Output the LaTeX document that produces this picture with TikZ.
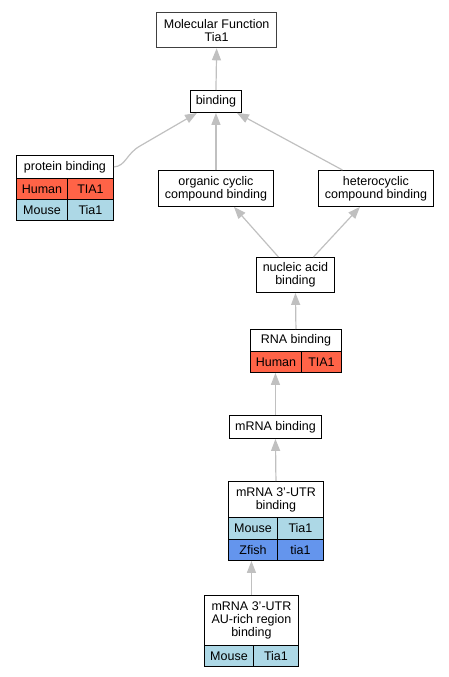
\documentclass[tikz,border=0pt]{standalone}
\usepackage{fontspec}
\setmainfont{Liberation Sans}
\usetikzlibrary{arrows.meta}
\definecolor{human}{HTML}{FF6347}
\definecolor{mouse}{HTML}{ADD8E6}
\definecolor{zfish}{HTML}{6495ED}
\definecolor{edgegray}{HTML}{C0C0C0}
\definecolor{rootgray}{HTML}{404040}
\begin{document}
\begin{tikzpicture}[x=1pt,y=-1pt,
  cell/.style={draw=black, line width=0.9pt, inner sep=0pt, anchor=north west,
    align=center, font=\fontsize{12.5}{13}\selectfont, fill=white},
  hum/.style={cell, fill=human},
  mou/.style={cell, fill=mouse},
  zf/.style={cell, fill=zfish},
  rootbox/.style={cell, draw=rootgray, line width=1.3pt},
  edge/.style={draw=edgegray, line width=1.2pt, -{Triangle[length=12pt,width=9pt]}}
]
\useasboundingbox (0,0) rectangle (449,677);

% root
\node[rootbox, minimum width=120, minimum height=35] (mf) at (156,12) {Molecular Function\\Tia1};
\node[cell, minimum width=51, minimum height=22] (bind) at (190,90) {binding};

% protein binding
\node[cell, minimum width=97, minimum height=23] (pb) at (16,155) {protein binding};
\node[hum, minimum width=51, minimum height=21] (pbh) at (16,178) {Human};
\node[hum, minimum width=46, minimum height=21] (pbhg) at (67,178) {TIA1};
\node[mou, minimum width=51, minimum height=21] (pbm) at (16,199) {Mouse};
\node[mou, minimum width=46, minimum height=21] (pbmg) at (67,199) {Tia1};

% organic / heterocyclic
\node[cell, minimum width=115, minimum height=36] (org) at (158,170) {organic cyclic\\compound binding};
\node[cell, minimum width=115, minimum height=36] (het) at (318,170) {heterocyclic\\compound binding};

% nucleic acid
\node[cell, minimum width=78, minimum height=35] (nuc) at (256,257) {nucleic acid\\binding};

% RNA binding
\node[cell, minimum width=91, minimum height=22] (rna) at (250,329) {RNA binding};
\node[hum, minimum width=51, minimum height=21] (rnah) at (250,351) {Human};
\node[hum, minimum width=40, minimum height=21] (rnahg) at (301,351) {TIA1};

% mRNA binding
\node[cell, minimum width=92, minimum height=23] (mrna) at (229,415) {mRNA binding};

% mRNA 3'-UTR binding
\node[cell, minimum width=95, minimum height=36] (utr) at (228,481) {mRNA 3'-UTR\\binding};
\node[mou, minimum width=49, minimum height=22] (utrm) at (228,517) {Mouse};
\node[mou, minimum width=46, minimum height=22] (utrmg) at (277,517) {Tia1};
\node[zf, minimum width=49, minimum height=21] (utrz) at (228,539) {Zfish};
\node[zf, minimum width=46, minimum height=21] (utrzg) at (277,539) {tia1};

% AU-rich
\node[cell, minimum width=94, minimum height=50] (au) at (204,595) {mRNA 3'-UTR\\AU-rich region\\binding};
\node[mou, minimum width=49, minimum height=21] (aum) at (204,645) {Mouse};
\node[mou, minimum width=45, minimum height=21] (aumg) at (253,645) {Tia1};

% edges
\draw[edge] (bind.north) -- (mf.south);
\draw[edge] (org.north) -- (bind.south);
\draw[edge] ([xshift=-33.5pt]het.north) -- ([xshift=-5pt]bind.south east);
\draw[edge] (pb.east) .. controls (126,166) and (126,154) .. (140,146) -- ([xshift=7pt]bind.south west);
\draw[edge] ([xshift=-17pt]nuc.north) -- ([xshift=18pt]org.south);
\draw[edge] ([xshift=18pt]nuc.north) -- ([xshift=-16pt]het.south);
\draw[edge] (rna.north) -- (nuc.south);
\draw[edge] (mrna.north) -- (mrna.north |- rnah.south);
\draw[edge] (utr.north) -- (mrna.south);
\draw[edge] (au.north) -- (au.north |- utrz.south);
\end{tikzpicture}
\end{document}
